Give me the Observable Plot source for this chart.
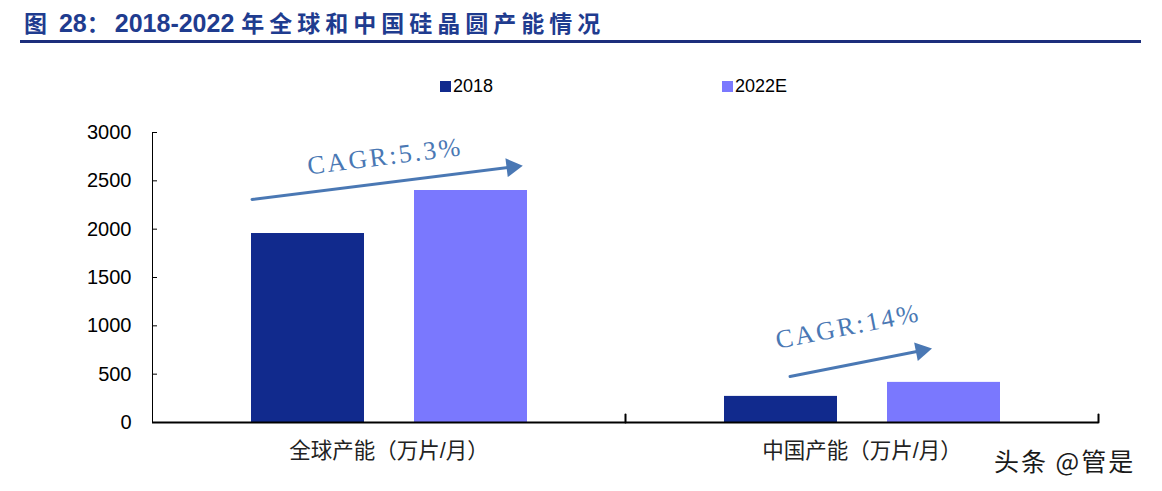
<!DOCTYPE html>
<html><head><meta charset="utf-8">
<script src="https://cdn.jsdelivr.net/npm/d3@7"></script>
<script src="https://cdn.jsdelivr.net/npm/@observablehq/plot@0.6"></script>
<style>
body{margin:0;background:#fff;}
#wrap{position:relative;width:1162px;height:491px;overflow:hidden;font-family:"Liberation Sans",Arial,"Noto Sans CJK SC",sans-serif;}
#title{position:absolute;left:24px;top:9px;font-weight:bold;font-size:25px;line-height:28px;color:#1f3c8f;white-space:nowrap;font-family:"Liberation Sans",Arial,"Noto Sans CJK SC",sans-serif;}
#title .cn{letter-spacing:5px;font-size:23px;}
#rule{position:absolute;left:20px;top:40px;width:1121px;height:3px;background:#1c2f7c;}
.leg{position:absolute;top:75px;font-size:18px;line-height:22px;color:#000;display:flex;align-items:center;}
.leg i{display:inline-block;width:11px;height:11px;margin-right:2px;}
#wm{position:absolute;left:994px;top:444px;font-size:25px;line-height:32px;color:#1a1a1a;font-family:"Noto Sans CJK SC",sans-serif;white-space:nowrap;letter-spacing:2px;}
#chart{position:absolute;left:0;top:0;}
</style></head>
<body><div id="wrap">
<div id="chart"></div>
<div id="title"></div>
<div id="rule"></div>
<div id="legend"></div>
<div id="wm"></div>
</div>
<script>
const titleText = "图 28：2018-2022 年全球和中国硅晶圆产能情况";
const categories = ["全球产能（万片/月）", "中国产能（万片/月）"];
const series = ["2018", "2022E"];
const values2018 = [1955, 270];
const values2022E = [2400, 415];
const yTicks = [0, 500, 1000, 1500, 2000, 2500, 3000];
const cagrLabels = ["CAGR:5.3%", "CAGR:14%"];
const arrowFrom = [2380, 457];
const arrowTo = [2591, 790];
const labelAt = [2752, 993];
const colors = ["#112a8d", "#7a78fe"];
const watermark = "头条 @管是";

// title: split Chinese runs from Latin runs for spacing
document.getElementById("title").innerHTML = titleText
  .split(/([\u3000-\u9fff\uff00-\uffef]+)/)
  .map(s => /[\u3000-\u9fff\uff00-\uffef]/.test(s) ? `<span class="cn">${s}</span>` : s)
  .join("");
document.getElementById("wm").textContent = watermark;
const legendLeft = [440, 722];
const legEl = document.getElementById("legend");
series.forEach((s, i) => {
  const d = document.createElement("div");
  d.className = "leg";
  d.style.left = legendLeft[i] + "px";
  d.innerHTML = `<i style="background:${colors[i]}"></i>${s}`;
  legEl.appendChild(d);
});

const data = categories.flatMap((c, i) => [
  {category: c, series: series[0], value: values2018[i]},
  {category: c, series: series[1], value: values2022E[i]}
]);
const ann = categories.map((c, i) => ({
  category: c, from: series[0], to: series[1],
  y1: arrowFrom[i], y2: arrowTo[i], ly: labelAt[i], label: cagrLabels[i]
}));

const tickUp = {draw(ctx, l) { ctx.moveTo(0, 0); ctx.lineTo(0, -l); }};
const blue = "#4a78b4";
const serif = '"Liberation Serif", "Times New Roman", serif';

const chart = Plot.plot({
  width: 1162, height: 491,
  marginTop: 132, marginBottom: 69, marginLeft: 152, marginRight: 64,
  style: {fontFamily: '"Liberation Sans", Arial, "Noto Sans CJK SC", sans-serif', fontSize: "20px", color: "#000", background: "transparent", overflow: "visible"},
  fx: {domain: categories, padding: 0, label: null},
  x: {domain: series, paddingInner: 0.309, paddingOuter: 0.6, axis: null},
  y: {domain: [0, 3000], ticks: yTicks, tickFormat: d => String(d), tickSize: -5, tickPadding: 26, line: true, label: null},
  color: {domain: series, range: colors},
  marks: [
    Plot.barY(data, {fx: "category", x: "series", y: "value", fill: "series"}),
    Plot.ruleY([0], {stroke: "#000", strokeWidth: 2}),
    Plot.vector([0], {frameAnchor: "bottom-right", length: 8, rotate: 0, anchor: "start", shape: tickUp, stroke: "#000", strokeWidth: 2}),
    Plot.axisFx({anchor: "bottom", tickSize: 0, tickPadding: 20, label: null, fontSize: 21.5, fill: "#222"}),
    // arrow 1
    Plot.arrow([ann[0]], {fx: "category", x1: "from", x2: "to", y1: "y1", y2: "y2", insetStart: -56.4, insetEnd: -42.3, headLength: 0, stroke: blue, strokeWidth: 3}),
    Plot.dot([ann[0]], {fx: "category", x: "to", y: "y2", dx: 41, dy: -5, symbol: "triangle", r: 7, rotate: 82.8, fill: blue, stroke: "none"}),
    Plot.text([ann[0]], {fx: "category", x: "from", y: "ly", text: "label", dx: 77, rotate: -7.2, fontFamily: serif, fontSize: 26, fill: blue}),
    // arrow 2
    Plot.arrow([ann[1]], {fx: "category", x1: "from", x2: "to", y1: "y1", y2: "y2", insetStart: 9.2, insetEnd: 22.4, headLength: 0, stroke: blue, strokeWidth: 3}),
    Plot.dot([ann[1]], {fx: "category", x: "to", y: "y2", dx: -22.7, dy: 4.5, symbol: "triangle", r: 7, rotate: 78.8, fill: blue, stroke: "none"}),
    Plot.text([ann[1]], {fx: "category", x: "from", y: "ly", text: "label", dx: 67, rotate: -11, fontFamily: serif, fontSize: 26, fill: blue})
  ]
});
chart.querySelectorAll("text").forEach(t => {
  if (t.textContent.startsWith("CAGR")) t.setAttribute("letter-spacing", "2.5");
});
document.getElementById("chart").appendChild(chart);
</script>
</body></html>
